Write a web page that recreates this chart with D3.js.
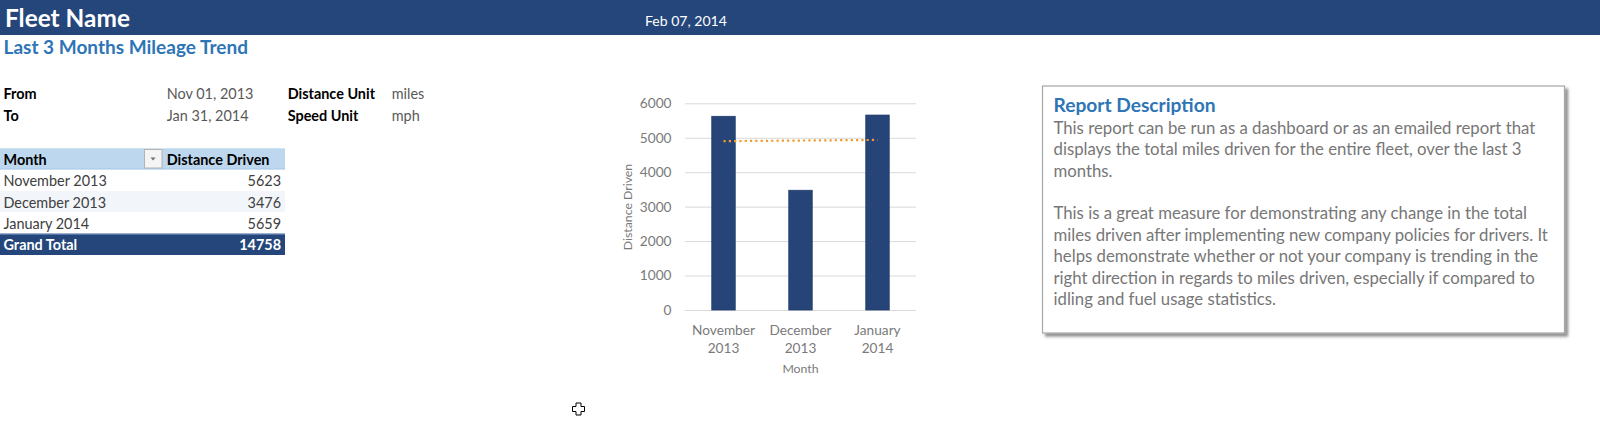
<!DOCTYPE html>
<html>
<head>
<meta charset="utf-8">
<script src="https://cdn.jsdelivr.net/npm/d3@7"></script>
<style>
  html, body { margin: 0; padding: 0; background: #fff; }
  svg { display: block; }
  text { font-family: Lato, "Open Sans", "DejaVu Sans", sans-serif; }
</style>
</head>
<body>
<div id="chart"></div>
<script>
// ---------------- data ----------------
const categories = ["November 2013", "December 2013", "January 2014"];
const distance = [5623, 3476, 5659];
const grandTotal = 14758;
const trendline = [4901, 4919, 4937];          // linear trendline values
const yTicks = [0, 1000, 2000, 3000, 4000, 5000, 6000];
const fleetName = "Fleet Name";
const reportDate = "Feb 07, 2014";
const subtitle = "Last 3 Months Mileage Trend";
const infoLabels = ["From", "To"];
const infoValues = ["Nov 01, 2013", "Jan 31, 2014"];
const unitLabels = ["Distance Unit", "Speed Unit"];
const unitValues = ["miles", "mph"];
const tableHeaders = ["Month", "Distance Driven"];
const descTitle = "Report Description";
const descLines = [
  "This report can be run as a dashboard or as an emailed report that",
  "displays the total miles driven for the entire fleet, over the last 3",
  "months.",
  "",
  "This is a great measure for demonstrating any change in the total",
  "miles driven after implementing new company policies for drivers. It",
  "helps demonstrate whether or not your company is trending in the",
  "right direction in regards to miles driven, especially if compared to",
  "idling and fuel usage statistics."
];

// ---------------- helpers ----------------
const W = 1600, H = 422;
const svg = d3.select("#chart").append("svg").attr("width", W).attr("height", H);

function fitSize(sel, targetW, base) {
  sel.style("font-size", base + "px");
  const w = sel.node().getComputedTextLength();
  const s = base * targetW / w;
  sel.style("font-size", s + "px");
  return s;
}
function measureSize(str, weight, targetW) {
  const t = svg.append("text").attr("font-weight", weight).text(str);
  const s = fitSize(t, targetW, 20);
  t.remove();
  return s;
}

const navy = "#24467a";
const tableSize = measureSize("November 2013", 400, 103.4);
const tickSize = measureSize("November", 400, 63);
const titleAxisSize = measureSize("Month", 400, 36.3);
const bodySize = measureSize(descLines[0], 400, 482);

// ---------------- header ----------------
svg.append("rect").attr("x", 0).attr("y", 0).attr("width", W).attr("height", 35).attr("fill", navy);
const fn = svg.append("text").attr("x", 5).attr("y", 26.7).attr("fill", "#fff")
  .attr("font-weight", 700).text(fleetName);
fitSize(fn, 125, 24);
const dt = svg.append("text").attr("x", 645).attr("y", 25.5).attr("fill", "#fff").text(reportDate);
fitSize(dt, 82, 13);
const st = svg.append("text").attr("x", 3.5).attr("y", 54.3).attr("fill", "#2e75b6")
  .attr("font-weight", 700).text(subtitle);
fitSize(st, 244.5, 17);

// ---------------- info block ----------------
const infoY = [99.3, 120.7];
infoLabels.forEach((d, i) => {
  svg.append("text").attr("x", 3.5).attr("y", infoY[i]).attr("font-weight", 700)
    .attr("fill", "#000").style("font-size", tableSize + "px").text(d);
  svg.append("text").attr("x", 166.7).attr("y", infoY[i])
    .attr("fill", "#595959").style("font-size", tableSize + "px").text(infoValues[i]);
  svg.append("text").attr("x", 287.7).attr("y", infoY[i]).attr("font-weight", 700)
    .attr("fill", "#000").style("font-size", tableSize + "px").text(unitLabels[i]);
  svg.append("text").attr("x", 391.7).attr("y", infoY[i])
    .attr("fill", "#595959").style("font-size", tableSize + "px").text(unitValues[i]);
});

// ---------------- pivot table ----------------
const tTop = 148.3, rowH = 21.34, tW = 285;
const tbl = svg.append("g");
tbl.append("rect").attr("x", 0).attr("y", tTop).attr("width", tW).attr("height", rowH).attr("fill", "#bdd7ee");
tbl.append("line").attr("x1", 0).attr("x2", tW).attr("y1", tTop + rowH - 0.5).attr("y2", tTop + rowH - 0.5)
  .attr("stroke", "#9bc2e6").attr("stroke-width", 1);
const rowFills = ["#ffffff", "#f2f6fa", "#ffffff"];
categories.forEach((c, i) => {
  const top = tTop + rowH * (i + 1);
  tbl.append("rect").attr("x", 0).attr("y", top).attr("width", tW).attr("height", rowH).attr("fill", rowFills[i]);
  tbl.append("text").attr("x", 3.5).attr("y", top + 16.8).attr("fill", "#404040")
    .style("font-size", tableSize + "px").text(c);
  tbl.append("text").attr("x", 281).attr("y", top + 16.8).attr("fill", "#404040").attr("text-anchor", "end")
    .style("font-size", tableSize + "px").text(distance[i]);
});
const gtTop = tTop + rowH * 4;
tbl.append("rect").attr("x", 0).attr("y", gtTop).attr("width", tW).attr("height", rowH).attr("fill", navy);
tbl.append("line").attr("x1", 0).attr("x2", tW).attr("y1", gtTop + 0.5).attr("y2", gtTop + 0.5)
  .attr("stroke", "#6f8fc0").attr("stroke-width", 1);
tbl.append("text").attr("x", 3.5).attr("y", gtTop + 16.8).attr("fill", "#fff").attr("font-weight", 700)
  .style("font-size", tableSize + "px").text("Grand Total");
tbl.append("text").attr("x", 281).attr("y", gtTop + 16.8).attr("fill", "#fff").attr("font-weight", 700)
  .attr("text-anchor", "end").style("font-size", tableSize + "px").text(grandTotal);
tbl.append("text").attr("x", 3.5).attr("y", tTop + 16.7).attr("fill", "#000").attr("font-weight", 700)
  .style("font-size", tableSize + "px").text(tableHeaders[0]);
tbl.append("text").attr("x", 166.7).attr("y", tTop + 16.7).attr("fill", "#000").attr("font-weight", 700)
  .style("font-size", tableSize + "px").text(tableHeaders[1]);
// dropdown button
tbl.append("rect").attr("x", 144.5).attr("y", 149.5).attr("width", 17.5).attr("height", 18.5)
  .attr("fill", "#f4f4f4").attr("stroke", "#b4b4b4").attr("stroke-width", 1);
tbl.append("path").attr("d", "M150.5,157.5 L155.5,157.5 L153,160.5 Z").attr("fill", "#707070");

// ---------------- chart ----------------
const x = d3.scaleBand().domain(categories).range([685, 916]).paddingInner(0.695).paddingOuter(0.3475);
const y = d3.scaleLinear().domain([0, 6000]).range([310, 103.3]);

const grid = svg.append("g").attr("transform", "translate(685,0)")
  .call(d3.axisLeft(y).tickValues(yTicks).tickSize(-231).tickFormat(""));
grid.select(".domain").remove();
grid.selectAll(".tick line").attr("stroke", "#d9d9d9").attr("stroke-width", 1);

const yAx = svg.append("g").attr("transform", "translate(685,0)")
  .call(d3.axisLeft(y).tickValues(yTicks).tickSize(0).tickPadding(13.5).tickFormat(d3.format("d")));
yAx.select(".domain").remove();
yAx.selectAll("text").attr("fill", "#7a7a7a").style("font-size", tickSize + "px")
  .style("font-family", "Lato, 'Open Sans', sans-serif");

svg.append("g").selectAll("rect").data(distance).join("rect")
  .attr("x", (d, i) => x(categories[i]))
  .attr("y", d => y(d))
  .attr("width", x.bandwidth())
  .attr("height", d => y(0) - y(d))
  .attr("fill", "#264478")
  .attr("stroke", "#1f3a68").attr("stroke-width", 0.75);

// trendline
const trendLine = d3.line()
  .x((d, i) => x(categories[i]) + x.bandwidth() / 2)
  .y(d => y(d));
svg.append("path").attr("d", trendLine(trendline)).attr("fill", "none")
  .attr("stroke", "#f29a2e").attr("stroke-width", 2.2).attr("stroke-dasharray", "2.2,3.1");

// x labels
const xl = svg.append("g").selectAll("text").data(categories).join("text")
  .attr("text-anchor", "middle").attr("fill", "#7a7a7a").style("font-size", tickSize + "px");
xl.each(function (c) {
  const parts = c.split(" ");
  const cx = x(c) + x.bandwidth() / 2;
  d3.select(this).append("tspan").attr("x", cx).attr("y", 335).text(parts[0]);
  d3.select(this).append("tspan").attr("x", cx).attr("y", 353.3).text(parts[1]);
});

// axis titles
svg.append("text").attr("x", 800.5).attr("y", 373.3).attr("text-anchor", "middle")
  .attr("fill", "#7a7a7a").style("font-size", titleAxisSize + "px").text("Month");
svg.append("text").attr("transform", "translate(632,207) rotate(-90)").attr("text-anchor", "middle")
  .attr("fill", "#7a7a7a").style("font-size", titleAxisSize + "px").text("Distance Driven");

// ---------------- description box ----------------
const defs = svg.append("defs");
const f = defs.append("filter").attr("id", "shadow").attr("x", "-5%").attr("y", "-5%")
  .attr("width", "115%").attr("height", "115%");
f.append("feDropShadow").attr("dx", 3).attr("dy", 3).attr("stdDeviation", 1.6)
  .attr("flood-color", "#000").attr("flood-opacity", 0.45);
svg.append("rect").attr("x", 1042.5).attr("y", 86).attr("width", 522).attr("height", 247)
  .attr("fill", "#fff").attr("stroke", "#a6a6a6").attr("stroke-width", 1.2).attr("filter", "url(#shadow)");
const dtl = svg.append("text").attr("x", 1053.5).attr("y", 111.5).attr("fill", "#2e75b6")
  .attr("font-weight", 700).text(descTitle);
fitSize(dtl, 162, 19);
descLines.forEach((l, i) => {
  if (!l) return;
  svg.append("text").attr("x", 1053.5).attr("y", 133.8 + i * 21.4).attr("fill", "#777777")
    .style("font-size", bodySize + "px").text(l);
});

// ---------------- cursor ----------------
svg.append("path").attr("transform", "translate(578.5,409)")
  .attr("d", "M-2.5,-6 h5 v3.5 h3.5 v5 h-3.5 v3.5 h-5 v-3.5 h-3.5 v-5 h3.5 z")
  .attr("fill", "#fff").attr("stroke", "#000").attr("stroke-width", 1);
</script>
</body>
</html>
